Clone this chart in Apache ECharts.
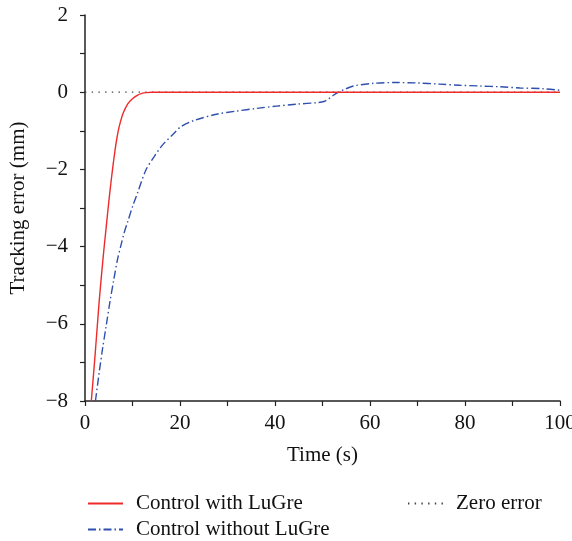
<!DOCTYPE html>
<html><head><meta charset="utf-8">
<script src="https://cdn.jsdelivr.net/npm/echarts@6/dist/echarts.min.js"></script>
<style>html,body{margin:0;padding:0;background:#fff}#c{width:572px;height:541px}</style>
</head><body><div id="c"></div>
<script>
const redT = [1.33,2,2.5,3,3.5,4,4.5,5,5.5,6,6.5,7,7.5,8,9,10,11,12,13,14,20,40,60,80,100];
const redY = [-8,-7.0,-6.2,-5.4,-4.7,-4.05,-3.45,-2.85,-2.3,-1.8,-1.35,-1.0,-0.75,-0.55,-0.3,-0.17,-0.08,-0.03,-0.01,0,0,0,0,0,0];
const blueT = [2.2,3,3.64,4.5,5.3,6,6.8,7.5,8.2,9,10.1,11,12.8,14.5,16.3,18.7,20.1,22.8,27.7,31.9,36.1,40.4,44.6,48.8,50.3,51.3,52.3,53.4,54.4,56.5,60.7,65.3,69.8,74.7,78.9,83.2,87.4,91.6,96.5,100];
const blueY = [-8,-7.25,-6.69,-6.02,-5.39,-4.9,-4.36,-4.0,-3.66,-3.35,-2.93,-2.63,-2.02,-1.68,-1.37,-1.07,-0.9,-0.74,-0.57,-0.49,-0.42,-0.36,-0.31,-0.27,-0.24,-0.17,-0.08,0,0.06,0.16,0.23,0.25,0.24,0.21,0.18,0.16,0.14,0.11,0.09,0.05];
const zeroT = [0,100];
const zeroY = [0,0];
const xTicks = [0,20,40,60,80,100];
const yTicks = [-8,-6,-4,-2,0,2];
const names = ['Control with LuGre','Control without LuGre','Zero error'];

const zip = (a,b) => a.map((v,i)=>[v,b[i]]);
const font = 'Liberation Serif';
const fmt = v => v < 0 ? '\u2212' + Math.abs(v) : String(v);
const chart = echarts.init(document.getElementById('c'));
function axisCommon(margin){ return {
  axisLine:{show:true,onZero:false,lineStyle:{color:'#222',width:1.5}},
  axisTick:{show:true,inside:false,length:5,lineStyle:{color:'#222',width:1.2}},
  minorTick:{show:true,splitNumber:2,length:5,lineStyle:{color:'#222',width:1.2}},
  splitLine:{show:false},
  axisLabel:{color:'#111',fontFamily:font,fontSize:21,margin:margin,formatter:fmt},
  nameTextStyle:{color:'#111',fontFamily:font,fontSize:21}
};}
const legendCommon = {
  itemWidth:35,itemHeight:14,
  itemStyle:{opacity:0},
  textStyle:{color:'#111',fontFamily:font,fontSize:21,padding:[0,0,0,8]}
};
chart.setOption({
  animation:false,
  grid:{left:85,right:12,top:15,bottom:140,containLabel:false,outerBoundsMode:'none'},
  xAxis:Object.assign({type:'value',min:xTicks[0],max:xTicks[xTicks.length-1],interval:20,
    name:'Time (s)',nameLocation:'middle',nameGap:44},axisCommon(12)),
  yAxis:Object.assign({type:'value',min:yTicks[0],max:yTicks[yTicks.length-1],interval:2,
    name:'Tracking error (mm)',nameLocation:'middle',nameGap:56},axisCommon(17)),
  legend:[
    Object.assign({data:[names[0]],left:82,top:488},legendCommon),
    Object.assign({data:[names[1]],left:82,top:514},legendCommon),
    Object.assign({data:[names[2]],left:402,top:488},legendCommon)
  ],
  series:[
    {name:names[2],type:'line',data:zip(zeroT,zeroY),symbol:'none',z:1,
     lineStyle:{color:'#444',width:1.3,type:[1.4,5.3]},itemStyle:{color:'#444'}},
    {name:names[1],type:'line',data:zip(blueT,blueY),symbol:'none',smooth:0.3,z:2,
     lineStyle:{color:'#2f4fae',width:1.4,type:[8,3,1.5,3]},itemStyle:{color:'#2f4fae'}},
    {name:names[0],type:'line',data:zip(redT,redY),symbol:'none',smooth:0.3,z:3,
     lineStyle:{color:'#ee2a2a',width:1.4},itemStyle:{color:'#ee2a2a'}}
  ]
});
</script></body></html>
